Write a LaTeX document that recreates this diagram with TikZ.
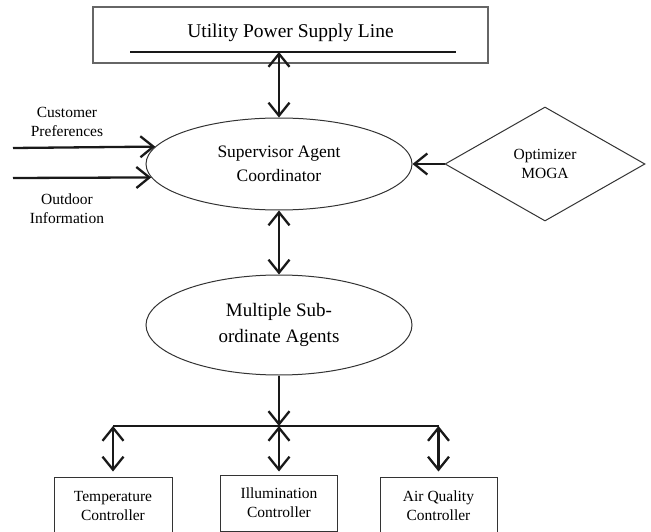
\documentclass[tikz,border=0pt]{standalone}
\usepackage{fontspec}
\setmainfont{Liberation Serif}
\usetikzlibrary{arrows.meta,shapes.geometric}
\newcommand\fntBig{\fontsize{19.5}{24}\selectfont}
\newcommand\fntSup{\fontsize{17.5}{24}\selectfont}
\newcommand\fntSub{\fontsize{19}{26}\selectfont}
\newcommand\fntSmall{\fontsize{15.5}{19}\selectfont}
\begin{document}
\begin{tikzpicture}[x=1pt,y=-1pt,
  thinbox/.style={draw=black!80,line width=1pt,inner sep=0pt},
  heavy/.style={line width=2.3pt,draw=black!90},
  arrboth/.style={heavy,{Straight Barb[length=13pt,width=21pt]}-{Straight Barb[length=13pt,width=21pt]}},
  arrend/.style={heavy,-{Straight Barb[length=13pt,width=21pt]}},
  lbl/.style={align=center,inner sep=0pt},
  ellnode/.style={ellipse,thinbox,align=center}
]
\useasboundingbox (0,0) rectangle (651,532);
\fill[white] (0,0) rectangle (651,532);
\clip (0,0) rectangle (651,532);

% top box
\node[thinbox,draw=black!60,line width=1.2pt,minimum width=395,minimum height=56] (topbox) at (290.5,35) {};
\node[lbl,font=\fntBig] (toptext) at (290.5,33) {Utility Power Supply Line};
\coordinate (ulA) at (130,52);
\coordinate (ulB) at (456,52);
\coordinate (ulM) at (279,52);
\draw[heavy] (ulA) -- (ulB);

% supervisor
\node[ellnode,font=\fntSup,minimum width=266,minimum height=92] (sup) at (279,164) {Supervisor Agent\\Coordinator};
\draw[arrboth] (ulM) -- (sup.north);

% left inputs
\coordinate (inA) at (13,148);
\coordinate (inB) at (13,178);
\draw[arrend] (inA) -- (sup.172.65);
\draw[arrend] (inB) -- (sup.186.3);
\node[lbl,font=\fntSmall] (cust) at (67,121.5) {Customer\\Preferences};
\node[lbl,font=\fntSmall] (outd) at (67,209) {Outdoor\\Information};

% optimizer
\node[diamond,thinbox,minimum width=200,minimum height=114,align=center,font=\fntSmall] (opt) at (545,164) {Optimizer\\MOGA};
\draw[arrend] (opt.west) -- (sup.east);

% subordinate
\node[ellnode,font=\fntSub,minimum width=266,minimum height=100] (sub) at (279,325) {Multiple Sub-\\ordinate Agents};
\draw[arrboth] (sup.south) -- (sub.north);

% bus
\coordinate (busL) at (113,426);
\coordinate (busM) at (279,426);
\coordinate (busR) at (438.5,426);
\draw[heavy] (busL) -- (busR);
\draw[arrend] (sub.south) -- (busM);

% controllers
\node[thinbox,minimum width=118,minimum height=58,align=center,font=\fntSmall] (temp) at (113,506) {Temperature\\Controller};
\node[thinbox,minimum width=117,minimum height=56,align=center,font=\fntSmall] (ill) at (279,503) {Illumination\\Controller};
\node[thinbox,minimum width=117,minimum height=58,align=center,font=\fntSmall] (air) at (438.5,506) {Air Quality\\Controller};
\draw[arrboth,shorten >=5pt] (busL) -- (temp.north);
\draw[arrboth,shorten >=3pt] (busM) -- (ill.north);
\draw[arrboth,shorten >=5pt] (busR) -- (air.north);
\end{tikzpicture}
\end{document}
